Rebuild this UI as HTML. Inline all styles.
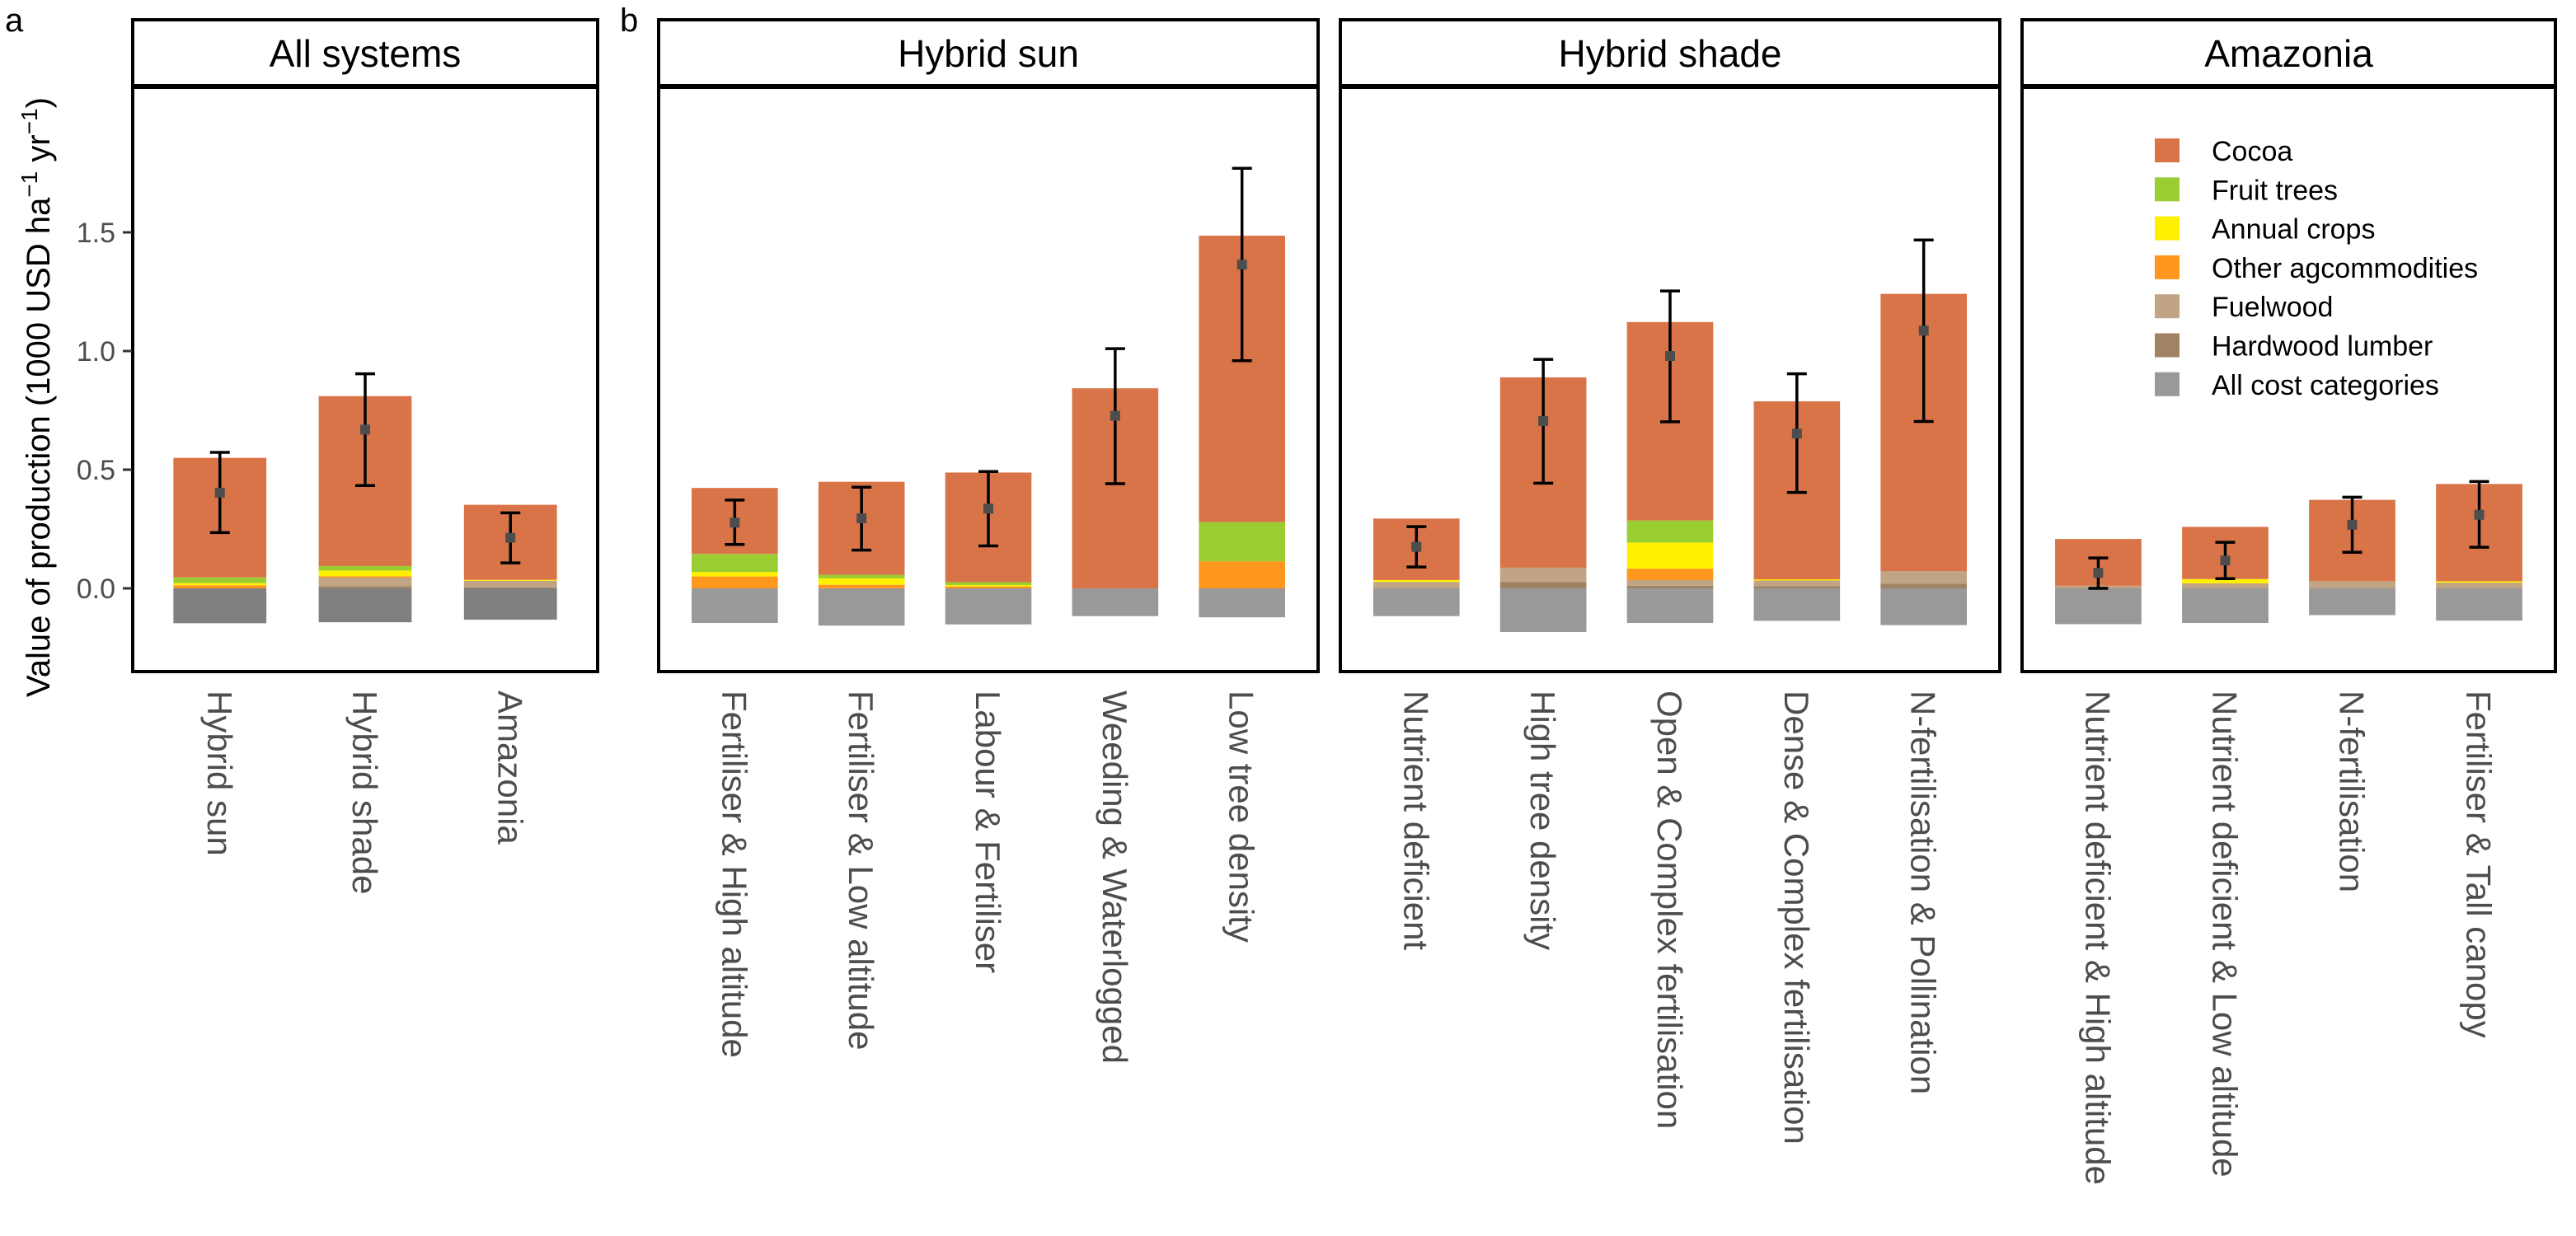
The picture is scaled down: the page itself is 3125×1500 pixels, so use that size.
<!DOCTYPE html>
<html><head><meta charset="utf-8"><style>
html,body{margin:0;padding:0;background:#fff;}
svg{display:block;font-family:"Liberation Sans",Arial,sans-serif;}
</style></head><body>
<svg id="chart" width="3125" height="1500" viewBox="0 0 3125 1500" xmlns="http://www.w3.org/2000/svg">
<text x="6" y="38" font-size="40">a</text>
<text x="752" y="38" font-size="40">b</text>
<text transform="translate(60,482) rotate(-90)" text-anchor="middle" font-size="40">Value of production (1000 USD  ha<tspan dy="-15" font-size="28">−1</tspan><tspan dy="15"> yr</tspan><tspan dy="-15" font-size="28">−1</tspan><tspan dy="15">)</tspan></text>
<g id="panels"></g>
<g id="legend"></g>
</svg>
<script>
// ---- data ----
const categoriesA = ["Hybrid sun","Hybrid shade","Amazonia"];
const categoriesSun = ["Fertiliser & High altitude","Fertiliser & Low altitude","Labour & Fertiliser","Weeding & Waterlogged","Low tree density"];
const categoriesShade = ["Nutrient deficient","High tree density","Open & Complex fertilisation","Dense & Complex fertilisation","N-fertilisation & Pollination"];
const categoriesAmaz = ["Nutrient deficient & High altitude","Nutrient deficient & Low altitude","N-fertilisation","Fertiliser & Tall canopy"];
// stacked segment values, bottom to top
const hardwoodA = [0,0.009,0.004];
const fuelwoodA = [0,0.036,0.028];
const otherA = [0.013,0.006,0];
const annualA = [0.009,0.024,0.004];
const fruitA = [0.024,0.019,0];
const cocoaA = [0.504,0.716,0.316];
const costA = [-0.147,-0.143,-0.132];
const meanA = [0.403,0.669,0.213];
const lowA = [0.235,0.433,0.107];
const highA = [0.573,0.904,0.318];

const hardwoodSun = [0,0,0,0,0];
const fuelwoodSun = [0,0,0,0,0];
const otherSun = [0.050,0.015,0.008,0,0.114];
const annualSun = [0.019,0.027,0.006,0,0];
const fruitSun = [0.076,0.015,0.012,0,0.165];
const cocoaSun = [0.278,0.392,0.462,0.843,1.207];
const costSun = [-0.146,-0.157,-0.152,-0.117,-0.122];
const meanSun = [0.277,0.295,0.336,0.727,1.364];
const lowSun = [0.185,0.161,0.179,0.441,0.959];
const highSun = [0.372,0.426,0.492,1.01,1.77];

const hardwoodShade = [0,0.026,0.011,0.009,0.02];
const fuelwoodShade = [0.027,0.061,0.024,0.024,0.052];
const otherShade = [0,0,0.048,0,0];
const annualShade = [0.008,0,0.110,0.005,0];
const fruitShade = [0,0,0.093,0,0];
const cocoaShade = [0.259,0.802,0.836,0.75,1.169];
const costShade = [-0.117,-0.184,-0.146,-0.137,-0.155];
const meanShade = [0.175,0.705,0.979,0.652,1.086];
const lowShade = [0.09,0.443,0.702,0.404,0.703];
const highShade = [0.26,0.965,1.253,0.904,1.468];

const hardwoodAmaz = [0,0,0,0];
const fuelwoodAmaz = [0.011,0.021,0.03,0.024];
const otherAmaz = [0,0,0,0];
const annualAmaz = [0,0.018,0,0.006];
const fruitAmaz = [0,0,0,0];
const cocoaAmaz = [0.197,0.22,0.343,0.41];
const costAmaz = [-0.151,-0.146,-0.113,-0.136];
const meanAmaz = [0.065,0.117,0.268,0.31];
const lowAmaz = [0,0.041,0.152,0.173];
const highAmaz = [0.128,0.194,0.384,0.45];

const yTicks = [0,0.5,1.0,1.5];
const yTickLabels = ["0.0","0.5","1.0","1.5"];
const legendLabels = ["Cocoa","Fruit trees","Annual crops","Other agcommodities","Fuelwood","Hardwood lumber","All cost categories"];

// ---- layout ----
const NS="http://www.w3.org/2000/svg";
const colors={cocoa:"#d97449",fruit:"#9acd32",annual:"#fff000",other:"#ff961e",fuel:"#c0a483",hard:"#a08363",cost:"#999999",costA:"#808080"};
const Y0=714, UNIT=288, PTOP=106, PBOT=815, STOP=24, SBOT=104;
function y(v){return Y0-UNIT*v;}
function mk(tag,attrs,parent){const e=document.createElementNS(NS,tag);for(const k in attrs)e.setAttribute(k,attrs[k]);parent.appendChild(e);return e;}
const root=document.getElementById('panels');

const panels=[
 {name:"all-systems",title:"All systems",x0:161,x1:725,cats:categoriesA,hard:hardwoodA,fuel:fuelwoodA,other:otherA,annual:annualA,fruit:fruitA,cocoa:cocoaA,cost:costA,mean:meanA,low:lowA,high:highA,bw:0.64,costColor:colors.costA},
 {name:"hybrid-sun",title:"Hybrid sun",x0:799,x1:1599,cats:categoriesSun,hard:hardwoodSun,fuel:fuelwoodSun,other:otherSun,annual:annualSun,fruit:fruitSun,cocoa:cocoaSun,cost:costSun,mean:meanSun,low:lowSun,high:highSun,bw:0.68,costColor:colors.cost},
 {name:"hybrid-shade",title:"Hybrid shade",x0:1626,x1:2426,cats:categoriesShade,hard:hardwoodShade,fuel:fuelwoodShade,other:otherShade,annual:annualShade,fruit:fruitShade,cocoa:cocoaShade,cost:costShade,mean:meanShade,low:lowShade,high:highShade,bw:0.68,costColor:colors.cost},
 {name:"amazonia",title:"Amazonia",x0:2453,x1:3100,cats:categoriesAmaz,hard:hardwoodAmaz,fuel:fuelwoodAmaz,other:otherAmaz,annual:annualAmaz,fruit:fruitAmaz,cocoa:cocoaAmaz,cost:costAmaz,mean:meanAmaz,low:lowAmaz,high:highAmaz,bw:0.68,costColor:colors.cost}
];

panels.forEach((p,pi)=>{
  const g=mk('g',{},root);
  
  
  const n=p.cats.length;
  const step=(p.x1-p.x0)/(n-1+1.2);
  function x(i){return p.x0+step*(0.6+i);}
  const bw=step*p.bw;
  const strip=mk('rect',{x:p.x0,y:STOP,width:p.x1-p.x0,height:SBOT-STOP,fill:"#fff",stroke:"#000","stroke-width":4},g);
  
  
  const st=mk('text',{x:(p.x0+p.x1)/2,y:81,"text-anchor":"middle","font-size":46},g);
  st.textContent=p.title;
  
  
  for(let i=0;i<n;i++){
    const segs=[["hard",p.hard[i]],["fuel",p.fuel[i]],["other",p.other[i]],["annual",p.annual[i]],["fruit",p.fruit[i]],["cocoa",p.cocoa[i]]];
    let acc=0;
    const cost=mk('rect',{x:x(i)-bw/2,y:y(0),width:bw,height:y(p.cost[i])-y(0),fill:p.costColor},g);
    
    
    segs.forEach(([k,v])=>{
      if(v<=0)return;
      const r=mk('rect',{x:x(i)-bw/2,y:y(acc+v),width:bw,height:y(acc)-y(acc+v),fill:colors[k]},g);
      
      
      acc+=v;
    });
    const eb=mk('g',{stroke:"#000","stroke-width":3.5},g);
    
    
    mk('line',{x1:x(i),x2:x(i),y1:y(p.low[i]),y2:y(p.high[i])},eb);
    mk('line',{x1:x(i)-12,x2:x(i)+12,y1:y(p.low[i]),y2:y(p.low[i])},eb);
    mk('line',{x1:x(i)-12,x2:x(i)+12,y1:y(p.high[i]),y2:y(p.high[i])},eb);
    const pt=mk('rect',{x:x(i)-6,y:y(p.mean[i])-6,width:12,height:12,fill:"#4d4d4d"},g);
    
    
    const lab=mk('text',{transform:`translate(${x(i)-15},838) rotate(90)`,"font-size":42,fill:"#4d4d4d"},g);
    lab.textContent=p.cats[i];
    
    
  }
  const frame=mk('rect',{x:p.x0,y:PTOP,width:p.x1-p.x0,height:PBOT-PTOP,fill:"none",stroke:"#000","stroke-width":4},g);
  
  
  if(pi===0){
    yTicks.forEach((t,j)=>{
      mk('line',{x1:149,x2:160,y1:y(t),y2:y(t),stroke:"#333","stroke-width":3},g);
      const tl=mk('text',{x:140,y:y(t)+12,"text-anchor":"end","font-size":34,fill:"#4d4d4d"},g);
      tl.textContent=yTickLabels[j];
      
      
    });
  }
});

const lg=document.getElementById('legend');
const lc=[colors.cocoa,colors.fruit,colors.annual,colors.other,colors.fuel,colors.hard,colors.cost];
legendLabels.forEach((l,i)=>{
  const yy=168+i*47.3;
  const sw=mk('rect',{x:2614,y:yy,width:30,height:29,fill:lc[i]},lg);
  
  
  const t=mk('text',{x:2683,y:yy+27,"font-size":34},lg);
  t.textContent=l;
  
  
});
</script>
</body></html>
